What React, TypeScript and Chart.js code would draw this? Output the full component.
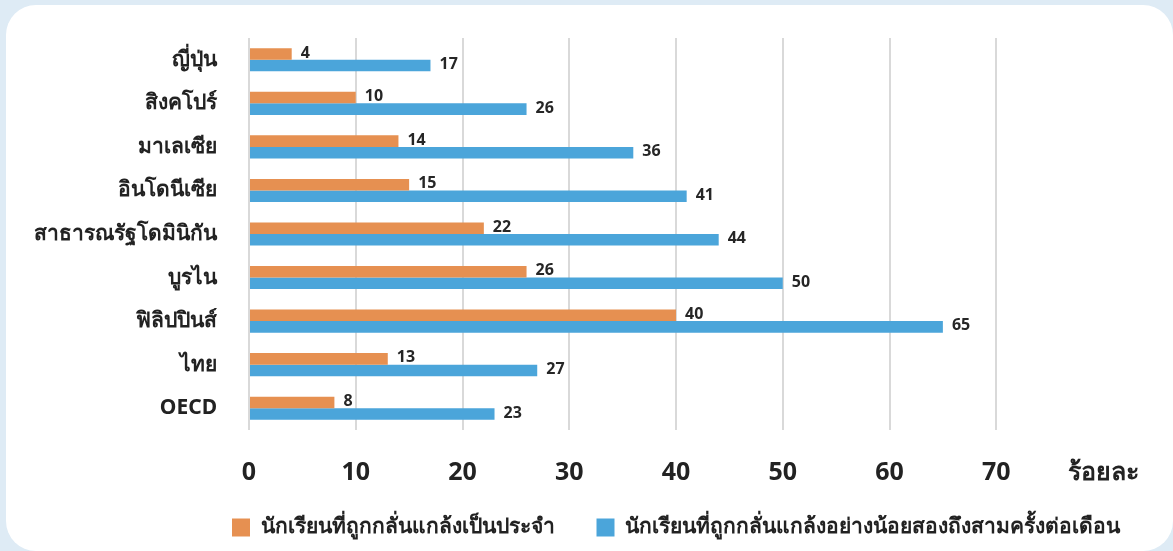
import React, { useEffect, useRef } from 'react';
import { Chart, registerables } from 'chart.js';

Chart.register(...registerables);

const categories = ['ญี่ปุ่น', 'สิงคโปร์', 'มาเลเซีย', 'อินโดนีเซีย', 'สาธารณรัฐโดมินิกัน', 'บูรไน', 'ฟิลิปปินส์', 'ไทย', 'OECD'];
const regularLabel = 'นักเรียนที่ถูกกลั่นแกล้งเป็นประจำ';
const monthlyLabel = 'นักเรียนที่ถูกกลั่นแกล้งอย่างน้อยสองถึงสามครั้งต่อเดือน';
const regularValues = [4, 10, 14, 15, 22, 26, 40, 13, 8];
const monthlyValues = [17, 26, 36, 41, 44, 50, 65, 27, 23];
const xTicks = [0, 10, 20, 30, 40, 50, 60, 70, 80];
const unitLabel = 'ร้อยละ';

const FONT = "'Noto Sans', 'Open Sans', Roboto, sans-serif";

const valueLabels = {
  id: 'valueLabels',
  afterDatasetsDraw(chart: any) {
    const ctx = chart.ctx;
    ctx.save();
    ctx.font = `bold 16px ${FONT}`;
    ctx.fillStyle = '#262626';
    ctx.textAlign = 'left';
    ctx.textBaseline = 'middle';
    chart.data.datasets.forEach((ds: any, di: number) => {
      const meta = chart.getDatasetMeta(di);
      meta.data.forEach((bar: any, i: number) => {
        ctx.fillText(String(ds.data[i]), bar.x + 9, bar.y - 1);
      });
    });
    ctx.restore();
  },
};

// centre the legend row under the plot area, and let the x tick labels
// overflow their box instead of being clipped
const layoutTweaks = {
  id: 'layoutTweaks',
  beforeDraw(chart: any) {
    const lg = chart.legend;
    const area = chart.chartArea;
    if (lg && area) {
      const c = (area.left + area.right) / 2;
      const half = Math.min(c, chart.width - c);
      lg.left = c - half;
      lg.right = c + half;
    }
    const xs = chart.scales.x;
    if (xs) xs.bottom = chart.height;
  },
};

export default function App() {
  const ref = useRef<HTMLCanvasElement | null>(null);

  useEffect(() => {
    if (!ref.current) return;
    const chart = new Chart(ref.current, {
      type: 'bar',
      data: {
        labels: categories,
        datasets: [
          {
            label: regularLabel,
            data: regularValues,
            backgroundColor: '#E69051',
            borderWidth: 0,
            barPercentage: 1,
            categoryPercentage: 0.53,
          },
          {
            label: monthlyLabel,
            data: monthlyValues,
            backgroundColor: '#4BA5DA',
            borderWidth: 0,
            barPercentage: 1,
            categoryPercentage: 0.53,
          },
        ],
      },
      options: {
        indexAxis: 'y',
        responsive: false,
        animation: false,
        layout: { padding: { left: 0, right: 70, top: 38, bottom: 3 } },
        plugins: {
          tooltip: { enabled: false },
          legend: {
            position: 'bottom',
            fullSize: true,
            labels: {
              boxWidth: 18,
              boxHeight: 18,
              padding: 42,
              color: '#222',
              font: { family: FONT, size: 21, weight: 'bold' },
            },
          },
        },
        scales: {
          x: {
            type: 'linear',
            min: 0,
            max: 80,
            afterBuildTicks(scale: any) {
              scale.ticks = xTicks.map((v) => ({ value: v }));
            },
            afterFit(scale: any) {
              scale.height = 45;
              scale.paddingLeft = 0;
              scale.paddingRight = 0;
            },
            border: { display: false },
            grid: {
              color: (c: any) => (c.tick && c.tick.value === 80 ? 'rgba(0,0,0,0)' : '#D9D9D9'),
              lineWidth: 2,
              drawTicks: false,
            },
            ticks: {
              padding: 28,
              color: '#222',
              font: { family: FONT, size: 25, weight: 'bold' },
              callback: (v: any) => (v === 80 ? unitLabel : String(v)),
            },
          },
          y: {
            afterFit(scale: any) {
              scale.width = 249;
              scale.paddingTop = 0;
              scale.paddingBottom = 0;
            },
            border: { display: false },
            grid: { display: false, drawTicks: false },
            ticks: {
              padding: 32,
              color: '#222',
              font: { family: FONT, size: 21, weight: 'bold' },
            },
          },
        },
      },
      plugins: [valueLabels, layoutTweaks],
    } as any);
    return () => chart.destroy();
  }, []);

  return (
    <div style={{ position: 'fixed', left: 0, top: 0, width: 1173, height: 551, background: '#DEEBF5', overflow: 'hidden' }}>
      <div style={{ position: 'absolute', left: 6, top: 5, width: 1167, height: 546, background: '#fff', borderRadius: 30 }} />
      <canvas ref={ref} width={1173} height={551} style={{ position: 'absolute', left: 0, top: 0, width: 1173, height: 551 }} />
    </div>
  );
}
